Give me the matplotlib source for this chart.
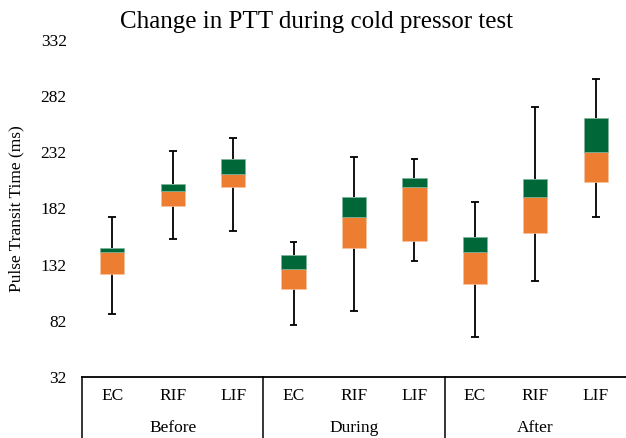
import matplotlib
matplotlib.use("Agg")
import matplotlib.pyplot as plt
from matplotlib.lines import Line2D
from matplotlib.transforms import blended_transform_factory
import numpy as np

# five-number summaries (ms)
conditions = ["Before", "During", "After"]
sites = ["EC", "RIF", "LIF"]
mins = [88, 154.5, 162, 78.5, 91, 135, 68, 117.5, 174]
q1 = [124, 184, 201, 110, 146.5, 153, 114.5, 160, 205.5]
med = [143, 197.5, 212.5, 128.5, 174.5, 201, 143, 192, 232]
q3 = [146.5, 203.5, 226.5, 140.5, 192, 209.5, 157, 208, 263]
maxs = [174, 233, 245, 152.5, 228, 226, 187.5, 272, 297]
yticks = [32, 82, 132, 182, 232, 282, 332]

ORANGE = "#ed7d31"
GREEN = "#006838"

plt.rcParams["font.family"] = ["Liberation Serif", "DejaVu Serif"]
fig = plt.figure(figsize=(6.26, 4.38), dpi=100)
W, H = 626, 438
ax = fig.add_axes([82 / W, (H - 377) / H, 544 / W, 337 / H])

x = np.arange(len(q1))
q1, med, q3 = np.array(q1), np.array(med), np.array(q3)
ax.bar(x, med - q1, bottom=q1, width=0.4, color=ORANGE, edgecolor="#f6c3a0", lw=0.5, zorder=3)
ax.bar(x, q3 - med, bottom=med, width=0.4, color=GREEN, edgecolor="#7fb39a", lw=0.5, zorder=3)
ax.vlines(x, mins, q1, color="black", lw=1.3, zorder=2)
ax.vlines(x, q3, maxs, color="black", lw=1.3, zorder=2)
ax.hlines(mins, x - 0.065, x + 0.065, color="black", lw=1.3, zorder=2)
ax.hlines(maxs, x - 0.065, x + 0.065, color="black", lw=1.3, zorder=2)

ax.set_xlim(-0.5, len(q1) - 0.5)
ax.set_ylim(32, 332)
ax.set_yticks(yticks)
ax.tick_params(axis="y", length=0, labelsize=12.5, pad=11)
ax.set_xticks(x)
ax.set_xticklabels(sites * 3, fontsize=12.5)
ax.tick_params(axis="x", length=0, pad=8)
for s in ("top", "right", "left"):
    ax.spines[s].set_visible(False)
ax.spines["bottom"].set_linewidth(1.3)
ax.set_ylabel("Pulse Transit Time (ms)", fontsize=12.5, labelpad=12)

trans = blended_transform_factory(ax.transData, fig.transFigure)
for i, c in enumerate(conditions):
    ax.text(3 * i + 1, 10 / H, c, transform=trans, ha="center", va="center", fontsize=12.5)
for xb in (-0.5, 2.5, 5.5):
    fig.add_artist(Line2D([xb, xb], [0, (H - 377) / H], transform=trans, color="black", lw=1.1))

fig.text(316 / W, 0.975, "Change in PTT during cold pressor test", fontsize=18,
         ha="center", va="top")
fig.savefig("out.png", dpi=100)
